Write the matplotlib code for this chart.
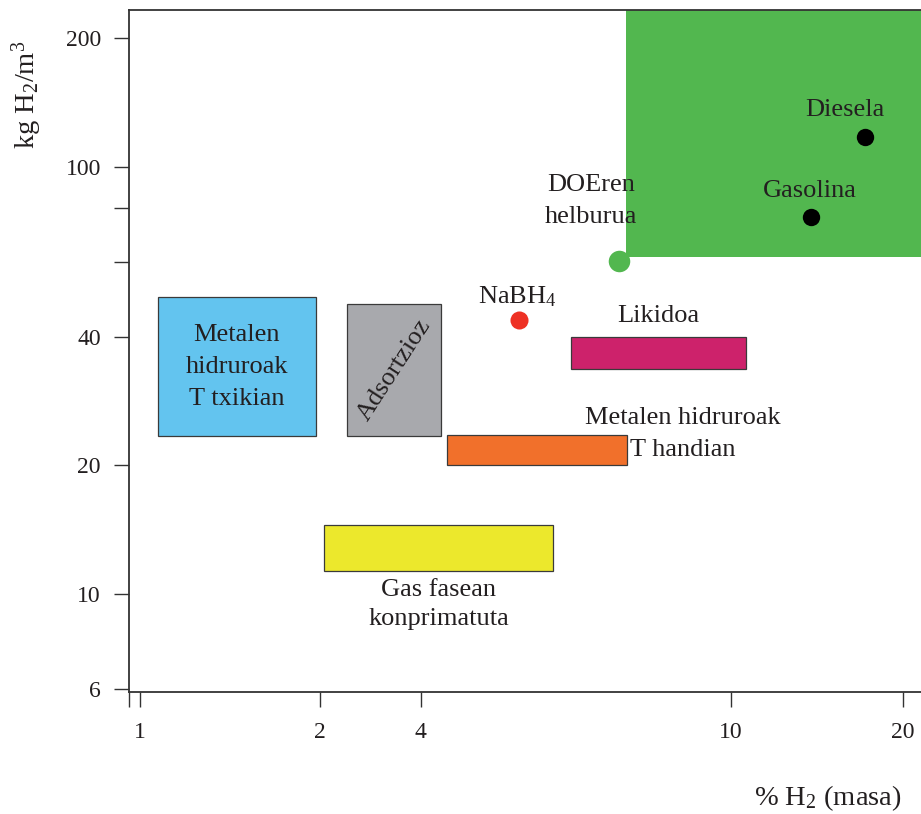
import numpy as np
import matplotlib
matplotlib.use("Agg")
import matplotlib.pyplot as plt
from matplotlib.patches import Rectangle
from matplotlib.ticker import FixedLocator, FixedFormatter, NullFormatter

plt.rcParams['font.family'] = ['Liberation Serif', 'DejaVu Serif']
plt.rcParams['mathtext.fontset'] = 'custom'
plt.rcParams['mathtext.rm'] = 'Liberation Serif'
plt.rcParams['mathtext.it'] = 'Liberation Serif:italic'
plt.rcParams['mathtext.default'] = 'regular'

# ---------------- data ----------------
box_names = ["Metalen\nhidruroak\nT txikian", "Adsortzioz", "Metalen hidruroak\nT handian",
             "Likidoa", "Gas fasean\nkonprimatuta", ""]
box_x_min = [1.07, 2.41, 4.32, 6.24, 2.06, 7.34]
box_x_max = [1.97, 4.25, 7.37, 10.64, 5.92, 30.0]
box_y_min = [23.4, 23.5, 20.05, 33.6, 11.33, 61.6]
box_y_max = [49.5, 47.7, 23.6, 39.9, 14.5, 300.0]
box_colors = ['#63C4EF', '#A8A9AD', '#F1702B', '#CD226B', '#ECE82C', '#52B74F']

point_names = ["NaBH$_4$", "DOEren\nhelburua", "Diesela", "Gasolina"]
point_x = [5.35, 7.19, 17.2, 13.8]
point_y = [43.8, 60.2, 117.5, 76.1]
point_colors = ['#EE3124', '#52B74F', '#000000', '#000000']

x_ticks = [1, 2, 4, 10, 20]
x_tick_labels = ['1', '2', '4', '10', '20']
y_ticks = [6, 10, 20, 40, 100, 200]
y_tick_labels = ['6', '10', '20', '40', '100', '200']
y_minor_ticks = [60, 80]

x_label = "% H$_2$ (masa)"
y_label = "kg H$_2$/m$^3$"

# ---------------- figure ----------------
W, H = 921, 814
fig = plt.figure(figsize=(W / 100, H / 100), dpi=100)
ax = fig.add_axes([129 / W, (H - 692) / H, (W - 129) / W, (692 - 10) / H])

# non-uniform logarithmic x scale of the original drawing
LOGK = np.array([-1.0, 0.0, np.log10(2), np.log10(4), 1.0, np.log10(20), 2.0])
POSK = np.array([140 - 598, 140, 320, 420.7, 730.7, 902.7, 902.7 + 0.699 * 571])


def fwd(x):
    x = np.asarray(x, dtype=float)
    return np.interp(np.log10(np.clip(x, 1e-6, None)), LOGK, POSK)


def inv(p):
    p = np.asarray(p, dtype=float)
    return 10 ** np.interp(p, POSK, LOGK)


ax.set_xscale('function', functions=(fwd, inv))
ax.set_yscale('log')
x_left = float(inv(129))
x_right = float(inv(921))
ax.set_xlim(x_left, x_right)
ax.set_ylim(5.904, 232.6)

txt_color = '#231F20'
fs = 19
ls = 1.6

# boxes
for name, x0, x1, y0, y1, c in zip(box_names, box_x_min, box_x_max, box_y_min, box_y_max, box_colors):
    edge = 'none' if name == "" else '#3A3A3A'
    r = Rectangle((x0, y0), x1 - x0, y1 - y0, facecolor=c, edgecolor=edge, lw=0.9, zorder=1)
    ax.add_patch(r)
    if name == "":
        continue
    if name.startswith("Metalen\nhid"):
        ax.annotate(name, xy=(0.5, 0.5), xycoords=r, ha='center', va='center',
                    fontsize=fs, color=txt_color, linespacing=ls, zorder=3)
    elif name == "Adsortzioz":
        ax.annotate(name, xy=(0.5, 0.5), xycoords=r, ha='center', va='center', rotation=57,
                    rotation_mode='anchor', fontsize=fs, color=txt_color, zorder=3)
    elif name.startswith("Metalen hid"):
        ax.annotate(name, xy=(1.0, 1.0), xycoords=r, xytext=(55, 1), textcoords='offset pixels',
                    ha='center', va='center', multialignment='center', fontsize=fs,
                    color=txt_color, linespacing=ls, zorder=3)
    elif name == "Likidoa":
        ax.annotate(name, xy=(0.5, 1.0), xycoords=r, xytext=(0, 21), textcoords='offset pixels',
                    ha='center', va='center', fontsize=fs, color=txt_color, zorder=3)
    else:
        ax.annotate(name, xy=(0.5, 0.0), xycoords=r, xytext=(0, -8), textcoords='offset pixels',
                    ha='center', va='top', multialignment='center', fontsize=fs,
                    color=txt_color, linespacing=1.4, zorder=3)

# points
sizes = [13, 15.5, 12.5, 12.5]
offsets = [(-2, 17), (-28, 60), (-20, 27), (-1, 26)]
vas = ['baseline', 'center', 'center', 'center']
for name, x, y, c, s, off, va in zip(point_names, point_x, point_y, point_colors, sizes, offsets, vas):
    ax.plot([x], [y], 'o', color=c, ms=s, mec='none', zorder=4, clip_on=False)
    ax.annotate(name, xy=(x, y), xytext=off, textcoords='offset pixels', ha='center', va=va,
                multialignment='center', fontsize=fs, color=txt_color, linespacing=ls, zorder=5)

# axes styling
spine_c = '#333333'
for s in ['left', 'top', 'bottom']:
    ax.spines[s].set_color(spine_c)
    ax.spines[s].set_linewidth(1.3)
ax.spines['right'].set_visible(False)
ax.set_facecolor('none')

ax.xaxis.set_major_locator(FixedLocator(x_ticks))
ax.xaxis.set_major_formatter(FixedFormatter(x_tick_labels))
ax.xaxis.set_minor_locator(FixedLocator([x_left]))
ax.xaxis.set_minor_formatter(NullFormatter())
ax.yaxis.set_major_locator(FixedLocator(y_ticks))
ax.yaxis.set_major_formatter(FixedFormatter(y_tick_labels))
ax.yaxis.set_minor_locator(FixedLocator(y_minor_ticks))
ax.yaxis.set_minor_formatter(NullFormatter())
ax.tick_params(which='both', direction='out', length=10.8, width=1.0, color=spine_c,
               labelsize=17, labelcolor=txt_color)
ax.tick_params(axis='x', which='both', pad=11)
ax.tick_params(axis='y', which='both', pad=9.5)

fig.text(27 / W, 1 - 95 / H, y_label, rotation=90, ha='center', va='center',
         fontsize=20.5, color=txt_color)
fig.text(828 / W, 1 - 805 / H, x_label, ha='center', va='baseline',
         fontsize=20.5, color=txt_color)

fig.savefig("out.png", dpi=100)
